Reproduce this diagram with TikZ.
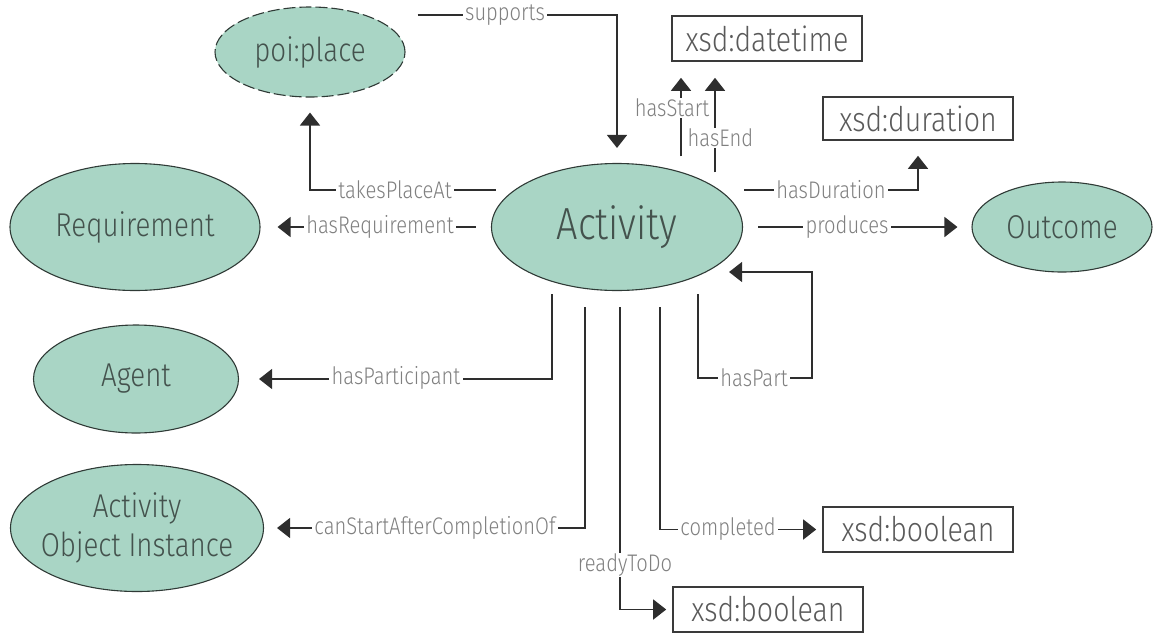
\documentclass[tikz,border=0pt]{standalone}
\usepackage{fontspec}
\IfFontExistsTF{Fira Sans Light}
  {\setmainfont{Fira Sans Light}[FakeStretch=0.84]}
  {\setmainfont{Fira Sans}[FakeStretch=0.84]}
\usetikzlibrary{shapes.geometric,arrows.meta}

\definecolor{nodefill}{HTML}{A9D5C5}
\definecolor{edgecol}{HTML}{2F3A36}
\definecolor{nodetext}{HTML}{44524D}
\definecolor{boxcol}{HTML}{3A3A3A}
\definecolor{boxtext}{HTML}{5A5A5A}
\definecolor{linecol}{HTML}{2E2E2E}
\definecolor{labelcol}{HTML}{808080}

\begin{document}
\begin{tikzpicture}[x=1pt,y=-1pt,
  cls/.style={ellipse, draw=edgecol, line width=1.1pt, fill=nodefill, inner sep=0pt,
    text=nodetext, font=\fontsize{33}{39}\selectfont, align=center},
  lit/.style={rectangle, draw=boxcol, line width=1.6pt, inner sep=0pt,
    minimum width=190pt, minimum height=45pt, text=boxtext, font=\fontsize{34}{38}\selectfont},
  wire/.style={draw=linecol, line width=1.5pt},
  conn/.style={wire, -{Triangle[width=20pt,length=13pt]}},
  lbl/.style={fill=white, inner xsep=2.5pt, inner ysep=1pt, text=labelcol,
    font=\fontsize{24}{27}\selectfont}]

\useasboundingbox (0,0) rectangle (1161,635);

% classes
\node[cls, minimum width=251pt, minimum height=127pt, font=\fontsize{45}{50}\selectfont] (act) at (617,227) {Activity};
\node[cls, minimum width=190pt, minimum height=90pt, dash pattern=on 12pt off 4pt] (poi) at (310,52) {poi:place};
\node[cls, minimum width=250pt, minimum height=127pt] (req) at (135,227) {Requirement};
\node[cls, minimum width=205pt, minimum height=108pt] (agent) at (136,379) {Agent};
\node[cls, minimum width=253pt, minimum height=127pt, inner xsep=-20pt] (aoi) at (137,528) {Activity\\Object Instance};
\node[cls, minimum width=180pt, minimum height=90pt] (outc) at (1062,227) {Outcome};

% datatypes
\node[lit] (dt) at (767,38.5) {xsd:datetime};
\node[lit, minimum height=43pt] (dur) at (918,118.5) {xsd:duration};
\node[lit] (boolc) at (918,529.5) {xsd:boolean};
\node[lit] (boolr) at (768,609.5) {xsd:boolean};

% properties
\draw[conn, shorten >=15pt] ([xshift=12pt]poi.east |- 0,15) -| (act.north);
\draw[conn, shorten >=15pt] ([xshift=5pt]act.west |- 0,190) -| (poi.south);
\draw[conn, shorten >=17pt] ([xshift=-15pt]act.west) -- (req.east);
\draw[conn, shorten <=3pt, shorten >=20pt] ([xshift=-65pt]act.south) |- (agent.east);
\draw[conn, shorten <=16pt, shorten >=13pt] ([xshift=-32pt]act.south) |- (aoi.east);
\draw[conn, shorten <=16pt, shorten >=6pt] ([xshift=3pt]act.south) |- (boolr.west);
\draw[conn, shorten <=16pt, shorten >=6pt] ([xshift=43pt]act.south) |- (boolc.west);
\draw[conn, shorten <=3pt] ([xshift=81pt]act.south) -- (698,378) -- (812,378) -- (812,272) -- ([xshift=-14pt]act.east |- 0,272);
\draw[conn, shorten >=16pt] ([xshift=64pt,yshift=6.5pt]act.north) -- (dt.south -| 681,0);
\draw[conn, shorten >=16pt] ([xshift=98pt,yshift=-9.5pt]act.north) -- (dt.south -| 715,0);
\draw[conn, shorten >=15pt] ([xshift=1pt]act.east |- 0,190) -| (dur.south);
\draw[conn, shorten >=14pt] ([xshift=15pt]act.east) -- (outc.west);

% property names
\node[lbl] (lsup) at (505,15) {supports};
\node[lbl] (ltpa) at (395,190) {takesPlaceAt};
\node[lbl] (lreq) at (380,227) {hasRequirement};
\node[lbl] (lpar) at (396,378) {hasParticipant};
\node[lbl] (lcan) at (435,528) {canStartAfterCompletionOf};
\node[lbl] (lrdy) at (625,565) {readyToDo};
\node[lbl] (lcmp) at (728,529) {completed};
\node[lbl] (lprt) at (754,378) {hasPart};
\node[lbl, anchor=east] (lsta) at (712,108) {hasStart};
\node[lbl, anchor=west] (lend) at (685,138) {hasEnd};
\node[lbl] (ldur) at (831,190) {hasDuration};
\node[lbl] (lpro) at (847,227) {produces};
\end{tikzpicture}
\end{document}
